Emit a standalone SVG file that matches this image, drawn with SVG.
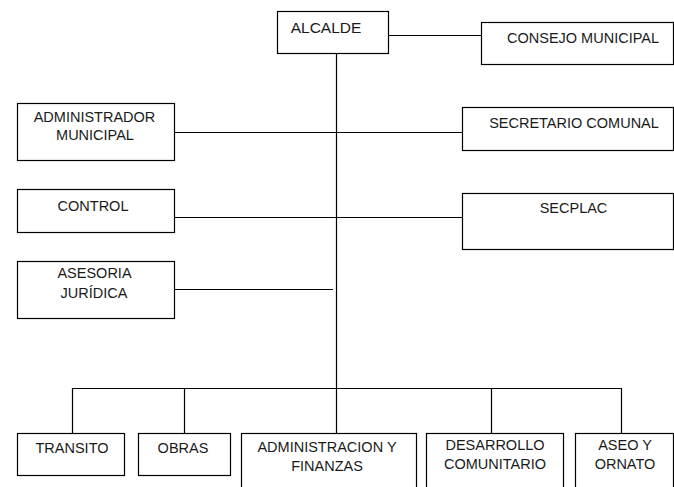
<svg xmlns="http://www.w3.org/2000/svg" width="674" height="487" viewBox="0 0 674 487">
<style>
rect{fill:#fff;stroke:#000;stroke-width:1.2}
line,polyline{stroke:#000;stroke-width:1.2;fill:none}
text{font-family:"Liberation Sans",Arial,sans-serif;font-size:14.5px;fill:#1a1a1a;text-anchor:middle}
</style>
<rect x="0" y="0" width="674" height="487" style="stroke:none"/>
<g id="connectors">
<line x1="336.5" y1="53" x2="336.5" y2="433"/>
<line x1="389" y1="35.5" x2="481" y2="35.5"/>
<line x1="174" y1="132.5" x2="462" y2="132.5"/>
<line x1="174" y1="217.5" x2="462" y2="217.5"/>
<line x1="174" y1="289.5" x2="333" y2="289.5"/>
<polyline points="72.5,433 72.5,388.5 621.5,388.5 621.5,433"/>
<line x1="184.5" y1="388.5" x2="184.5" y2="433"/>
<line x1="491.5" y1="388.5" x2="491.5" y2="433"/>
</g>
<g id="alcalde"><rect x="277.5" y="11.5" width="111" height="42"/><text x="326" y="32.5" style="font-size:15.5px">ALCALDE</text></g>
<g id="consejo"><rect x="481.5" y="22.5" width="192" height="42"/><text x="583" y="43">CONSEJO MUNICIPAL</text></g>
<g id="administrador"><rect x="17.5" y="103.5" width="157" height="57"/><text x="94.5" y="122">ADMINISTRADOR</text><text x="95" y="140">MUNICIPAL</text></g>
<g id="secretario"><rect x="462.5" y="107.5" width="211" height="43"/><text x="574" y="128">SECRETARIO COMUNAL</text></g>
<g id="control"><rect x="17.5" y="189.5" width="157" height="43"/><text x="93" y="211">CONTROL</text></g>
<g id="secplac"><rect x="462.5" y="193.5" width="211" height="56"/><text x="573.5" y="213">SECPLAC</text></g>
<g id="asesoria"><rect x="17.5" y="261.5" width="157" height="57"/><text x="94.5" y="278">ASESORIA</text><text x="94" y="298">JURÍDICA</text></g>
<g id="transito"><rect x="17.5" y="433.5" width="107" height="42"/><text x="72" y="453">TRANSITO</text></g>
<g id="obras"><rect x="138.5" y="433.5" width="92" height="42"/><text x="183" y="453">OBRAS</text></g>
<g id="admin-finanzas"><rect x="241.5" y="433.5" width="175" height="60"/><text x="327" y="452">ADMINISTRACION Y</text><text x="327" y="471">FINANZAS</text></g>
<g id="desarrollo"><rect x="426.5" y="433.5" width="137" height="60"/><text x="495" y="450">DESARROLLO</text><text x="495" y="469">COMUNITARIO</text></g>
<g id="aseo"><rect x="575.5" y="433.5" width="98" height="60"/><text x="625" y="450">ASEO Y</text><text x="625" y="469">ORNATO</text></g>
</svg>
